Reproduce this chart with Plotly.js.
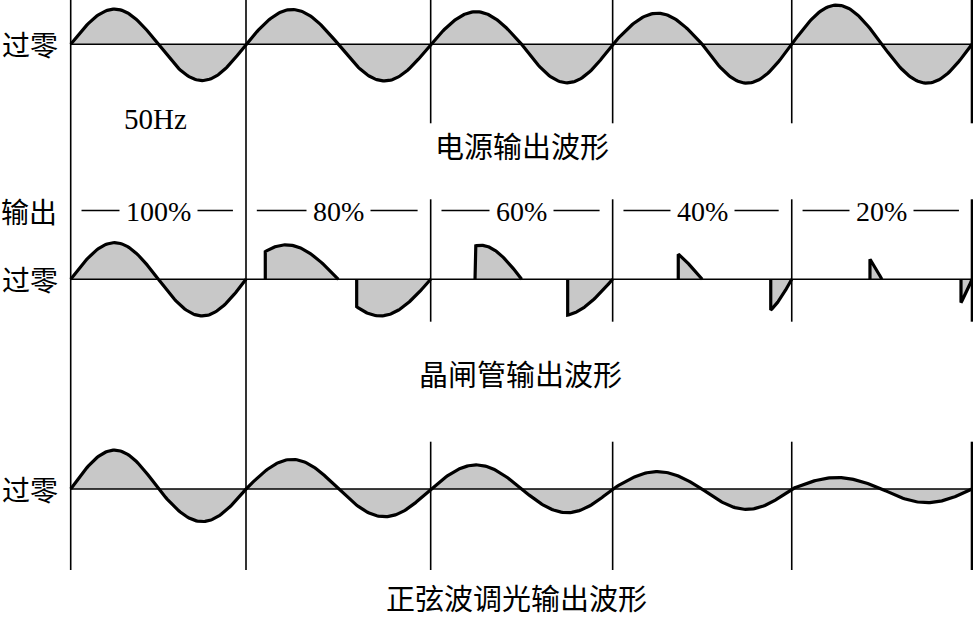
<!DOCTYPE html>
<html><head><meta charset="utf-8">
<script src="https://cdn.plot.ly/plotly-3.0.1.min.js"></script>
<style>html,body{margin:0;padding:0;background:#fff}</style>
</head><body><div id="chart" style="width:973px;height:620px"></div>
<script>
// ---- data ----
// cycle boundaries of the 50 Hz mains (ms)
const cycleEdges = [0, 19.45, 39.94, 60.13, 80.0, 100.0];
const freqLabel = '50Hz';
const rowCaptions = ['电源输出波形', '晶闸管输出波形', '正弦波调光输出波形'];
const zeroLabel = '过零';
const outLabel = '输出';
const dimLevels = ['100%', '80%', '60%', '40%', '20%'];

// mains output (top row): peak of positive / negative half cycle (1 = full amplitude)
const mainsPos = [0.95, 0.94, 0.88, 0.84, 1.06];
const mainsNeg = [0.98, 0.99, 1.04, 1.05, 1.05];

// thyristor output (middle row): firing time (ms), voltage at firing, arc amplitude
const thyPosFire = [0, 21.59, 44.86, 67.41, 88.68];
const thyPosJump = [0, 0.75, 0.90, 0.68, 0.54];
const thyPosAmp  = [0.99, 0.93, 0.92, 0.95, 0.95];
const thyNegFire = [9.73, 31.73, 55.14, 77.67, 98.78];
const thyNegJump = [0, 0.74, 0.965, 0.83, 0.63];
const thyNegAmp  = [0.99, 0.99, 0.98, 0.95, 0.95];

// sine-wave dimming output (bottom row)
const sinePos = [1.05, 0.80, 0.65, 0.47, 0.31];
const sineNeg = [0.88, 0.75, 0.64, 0.55, 0.37];

// ---- geometry ----
const W = 973, H = 620;
const X0PX = 70.7, PXMS = 9.013;   // pixel of t=0, pixels per ms
const UNIT = 37;                   // pixels per amplitude unit
const xRange = [-X0PX / PXMS, (W - X0PX) / PXMS];
const P = py => 1 - py / H;
function band(top, bottom, zero) {
  return {domain: [1 - bottom / H, 1 - top / H], range: [-(bottom - zero) / UNIT, (zero - top) / UNIT]};
}
const bands = [band(0, 123, 44.3), band(190, 330, 279.3), band(430, 580, 489)];
const yNames = ['y', 'y2', 'y3'];

function piece(a, b, f, h, A, sign) {
  const frac = (f - a) / (b - a);
  const r = Math.min(h / A, 1);
  const ph0 = h <= 0 ? 0 : (frac < 0.5 ? Math.asin(r) : Math.PI - Math.asin(r));
  const xs = [f], ys = [0];
  const N = 60;
  for (let i = 0; i <= N; i++) {
    const ph = ph0 + (Math.PI - ph0) * i / N;
    xs.push(f + (b - f) * i / N);
    ys.push(sign * A * Math.sin(ph));
  }
  return {xs, ys};
}

function rowPieces(kind) {
  const out = [];
  for (let c = 0; c < 5; c++) {
    const a = cycleEdges[c], b = cycleEdges[c + 1], m = (a + b) / 2;
    if (kind === 0) {
      out.push(piece(a, m, a, 0, mainsPos[c], 1));
      out.push(piece(m, b, m, 0, mainsNeg[c], -1));
    } else if (kind === 2) {
      out.push(piece(a, m, a, 0, sinePos[c], 1));
      out.push(piece(m, b, m, 0, sineNeg[c], -1));
    } else {
      out.push(piece(a, m, thyPosFire[c], thyPosJump[c], thyPosAmp[c], 1));
      out.push(piece(m, b, thyNegFire[c], thyNegJump[c], thyNegAmp[c], -1));
    }
  }
  return out;
}

const traces = [];
for (let r = 0; r < 3; r++) {
  const pcs = rowPieces(r);
  // fills
  let fx = [], fy = [];
  pcs.forEach((p, i) => { if (i) { fx.push(null); fy.push(null); } fx = fx.concat(p.xs); fy = fy.concat(p.ys); });
  traces.push({x: fx, y: fy, xaxis: 'x', yaxis: yNames[r], mode: 'lines', fill: 'toself',
    fillcolor: '#c8c8c8', line: {color: 'rgba(0,0,0,0)', width: 0}, hoverinfo: 'skip'});
  // curves
  let cx = [], cy = [];
  pcs.forEach((p, i) => {
    if (i) {
      const lx = cx[cx.length - 1];
      if (Math.abs(lx - p.xs[0]) > 1e-6) { cx.push(null); cy.push(null); }
    }
    cx = cx.concat(p.xs); cy = cy.concat(p.ys);
  });
  traces.push({x: cx, y: cy, xaxis: 'x', yaxis: yNames[r], mode: 'lines',
    line: {color: '#000', width: 3.2, shape: 'linear'}, hoverinfo: 'skip', connectgaps: false});
}

const shapes = [];
// zero lines
for (let r = 0; r < 3; r++) {
  shapes.push({type: 'line', xref: 'x', yref: yNames[r], x0: 0, x1: xRange[1], y0: 0, y1: 0,
    line: {color: '#000', width: 1.6}});
}
// vertical cycle boundaries
cycleEdges.forEach((e, i) => {
  const w = i === cycleEdges.length - 1 ? 2.6 : 1.6;
  const segs = i < 2 ? [[0, 570]] : [[0, 123.3], [199.3, 321.7], [441.7, 570]];
  segs.forEach(s => shapes.push({type: 'line', xref: 'x', yref: 'paper', x0: e, x1: e,
    y0: P(s[1]), y1: P(s[0]), line: {color: '#000', width: w}}));
});
// dimming level dashes
for (let c = 0; c < 5; c++) {
  shapes.push({type: 'line', xref: 'x', yref: 'paper', x0: cycleEdges[c] + 1.2, x1: cycleEdges[c + 1] - 1.45,
    y0: P(210.5), y1: P(210.5), line: {color: '#000', width: 1.3}});
}

const serif = {family: 'Liberation Serif, serif', color: '#000'};
const cjk = {family: 'Noto Sans CJK SC, sans-serif', color: '#000'};
const annotations = [];
[44.3, 279.3, 489].forEach(py => annotations.push({xref: 'paper', yref: 'paper', x: 30 / W, y: P(py),
  text: zeroLabel, showarrow: false, xanchor: 'center', yanchor: 'middle', font: Object.assign({size: 28}, cjk)}));
annotations.push({xref: 'paper', yref: 'paper', x: 29 / W, y: P(211), text: outLabel, showarrow: false,
  xanchor: 'center', yanchor: 'middle', font: Object.assign({size: 28}, cjk)});
annotations.push({xref: 'x', yref: 'paper', x: 9.4, y: P(118.5), text: freqLabel, showarrow: false,
  xanchor: 'center', yanchor: 'middle', font: Object.assign({size: 29}, serif)});
const capPos = [[50.1, 145], [49.9, 373], [49.5, 597]];
rowCaptions.forEach((t, i) => annotations.push({xref: 'x', yref: 'paper', x: capPos[i][0], y: P(capPos[i][1]),
  text: t, showarrow: false, xanchor: 'center', yanchor: 'middle', font: Object.assign({size: 29}, cjk)}));
dimLevels.forEach((t, c) => annotations.push({xref: 'x', yref: 'paper', x: (cycleEdges[c] + cycleEdges[c + 1]) / 2,
  y: P(211), text: t, showarrow: false, xanchor: 'center', yanchor: 'middle', bgcolor: '#fff', borderpad: 6,
  font: Object.assign({size: 28}, serif)}));

const hidden = {showgrid: false, zeroline: false, showticklabels: false, ticks: '', showline: false, fixedrange: true};
const layout = {
  width: W, height: H, margin: {l: 0, r: 0, t: 0, b: 0}, paper_bgcolor: '#fff', plot_bgcolor: 'rgba(0,0,0,0)',
  showlegend: false,
  xaxis: Object.assign({range: xRange, domain: [0, 1]}, hidden),
  shapes, annotations
};
bands.forEach((b, i) => {
  layout[i ? 'yaxis' + (i + 1) : 'yaxis'] = Object.assign({domain: b.domain, range: b.range, anchor: 'x'}, hidden);
});
Plotly.newPlot('chart', traces, layout, {staticPlot: true, displayModeBar: false});
</script></body></html>
